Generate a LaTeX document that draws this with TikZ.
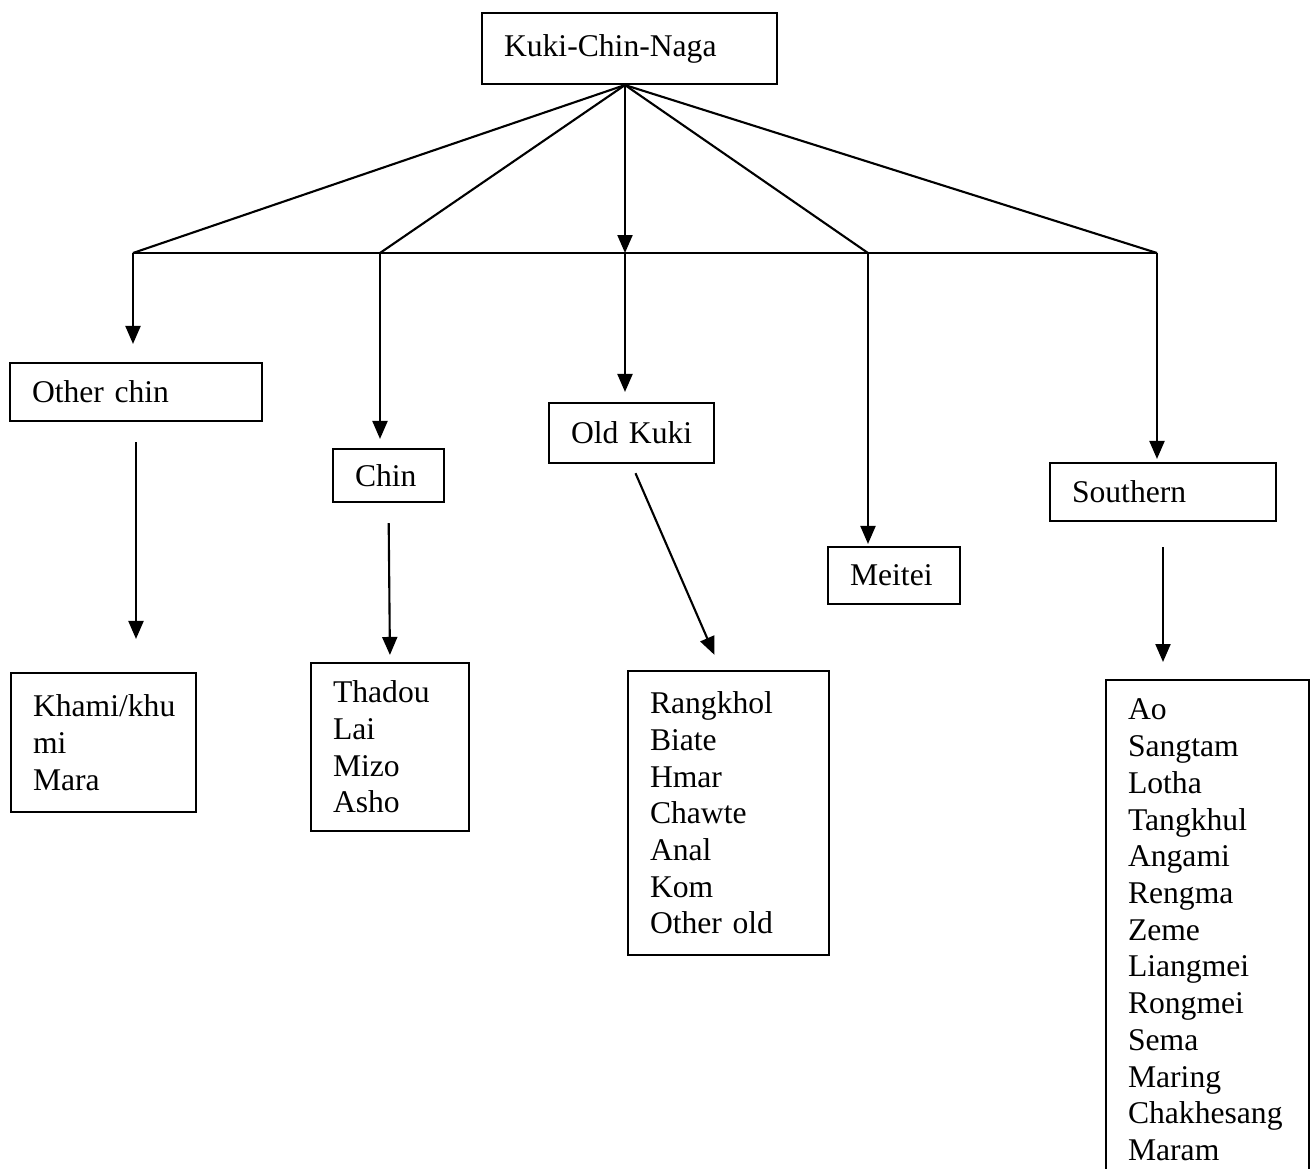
\documentclass[tikz,border=0pt]{standalone}
\usepackage{fontspec}
\setmainfont{Liberation Serif}
\usetikzlibrary{arrows.meta,calc}

\begin{document}
\begin{tikzpicture}[x=0.02cm,y=-0.02cm,
  font=\fontsize{18}{20.9}\selectfont,
  box/.style={draw,line width=1.2pt,inner xsep=0.44cm,inner ysep=0pt,align=left},
  link/.style={line width=1.2pt},
  arr/.style={line width=1.2pt,-{Triangle[length=0.36cm,width=0.3cm]}}]
\useasboundingbox (0,0) rectangle (1313,1169);

\node[box,text width=5.02cm,minimum height=1.42cm] (KCN) at (629.5,48.5) {Kuki-Chin-Naga};

\node[box,text width=4.16cm,minimum height=1.16cm] (OC) at (136,392) {Other chin};
\node[box,text width=1.34cm,minimum height=1.06cm] (CH) at (388.5,475.5) {Chin};
\node[box,text width=2.42cm,minimum height=1.20cm] (OK) at (631.5,433) {Old~Kuki};
\node[box,text width=1.76cm,minimum height=1.14cm] (ME) at (894,575.5) {Meitei};
\node[box,text width=3.64cm,minimum height=1.16cm] (SO) at (1163,492) {Southern};

\node[box,text width=2.82cm,minimum height=2.78cm] (KH) at (103.5,742.5) {Khami/khu\\mi\\Mara};
\node[box,text width=2.28cm,minimum height=3.36cm] (TH) at (390,747) {Thadou\\Lai\\Mizo\\Asho};
\node[box,text width=3.14cm,minimum height=5.68cm] (RK) at (728.5,813) {Rangkhol\\Biate\\Hmar\\Chawte\\Anal\\Kom\\Other old};
\node[box,text width=3.18cm,inner ysep=0.38cm,anchor=north] (SL) at (1207.5,679) {Ao\\Sangtam\\Lotha\\Tangkhul\\Angami\\Rengma\\Zeme\\Liangmei\\Rongmei\\Sema\\Maring\\Chakhesang\\Maram};

% bar under the top box
\coordinate (T) at ($(KCN.south)+(-4.5,0)$);
\coordinate (B1) at (133,253);
\coordinate (B2) at (380,253);
\coordinate (B3) at (625,253);
\coordinate (B4) at (868,253);
\coordinate (B5) at (1157,253);

\draw[link] (B1) -- (B5);
\foreach \b in {B1,B2,B4,B5}
  \draw[link] (T) -- (\b);
\draw[arr] (T) -- (B3);

\draw[arr,shorten >=0.36cm] (B1) -- (B1 |- OC.north);
\draw[arr,shorten >=0.18cm] (B2) -- (B2 |- CH.north);
\draw[arr,shorten >=0.2cm] (B3) -- (B3 |- OK.north);
\draw[arr,shorten >=0.04cm] (B4) -- (B4 |- ME.north);
\draw[arr,shorten >=0.06cm] (B5) -- (B5 |- SO.north);

% second level
\draw[arr,shorten <=0.4cm,shorten >=0.66cm] (OC.south) -- (OC.south |- KH.north);
\draw[arr,shorten <=0.4cm,shorten >=0.14cm] (CH.south) -- (TH.north);
\draw[arr,shorten <=0.2cm,shorten >=0.33cm] (OK.south) -- ([xshift=-0.15cm]RK.north);
\draw[arr,shorten <=0.5cm,shorten >=0.34cm] (SO.south) -- (SO.south |- SL.north);

\end{tikzpicture}
\end{document}
